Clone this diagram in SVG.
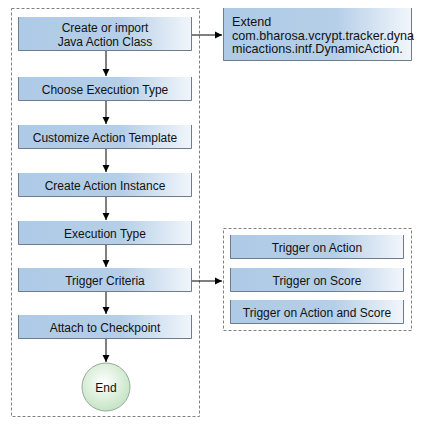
<svg xmlns="http://www.w3.org/2000/svg" width="422" height="426" viewBox="0 0 422 426">
<defs>
<linearGradient id="bg" x1="0" y1="0" x2="1" y2="0">
<stop offset="0" stop-color="#aecae6"/>
<stop offset="0.6" stop-color="#b6cfe8"/>
<stop offset="1" stop-color="#f2f6fb"/>
</linearGradient>
<radialGradient id="eg" cx="0.45" cy="0.4" r="0.6">
<stop offset="0" stop-color="#ffffff"/>
<stop offset="1" stop-color="#c4e4c4"/>
</radialGradient>
<marker id="ah" markerWidth="8" markerHeight="8" refX="7" refY="4" orient="auto" markerUnits="userSpaceOnUse">
<path d="M0,0.5 L7,4 L0,7.5 Z" fill="#000"/>
</marker>
</defs>
<style>
.dash{fill:none;stroke:#808080;stroke-width:1;stroke-dasharray:3,2}
.box{fill:url(#bg)}
.edge{fill:none;stroke:#6e7c8c;stroke-width:1}
.t{font-family:"Liberation Sans",Arial,sans-serif;font-size:12px;fill:#111;text-anchor:middle}
.tl{font-family:"Liberation Sans",Arial,sans-serif;font-size:12.6px;fill:#111}
.c{fill:none;stroke:#000;stroke-width:1;marker-end:url(#ah)}
</style>
<rect class="dash" x="11.5" y="8.5" width="188" height="408"/>
<rect class="dash" x="223.5" y="228.5" width="188" height="102"/>
<g id="n1">
<rect class="box" x="18" y="17" width="174" height="34"/>
<path class="edge" d="M18.5,17 V50.5 H191.5 V17"/>
<text class="t" x="105" y="32">Create or import</text>
<text class="t" x="105" y="46">Java Action Class</text>
</g>
<g id="n2">
<rect class="box" x="18" y="77" width="174" height="24"/>
<path class="edge" d="M18.5,77 V100.5 H191.5 V77"/>
<text class="t" x="105" y="93.5">Choose Execution Type</text>
</g>
<g id="n3">
<rect class="box" x="18" y="125" width="174" height="24"/>
<path class="edge" d="M18.5,125 V148.5 H191.5 V125"/>
<text class="t" x="105" y="141.5">Customize Action Template</text>
</g>
<g id="n4">
<rect class="box" x="18" y="173" width="174" height="24"/>
<path class="edge" d="M18.5,173 V196.5 H191.5 V173"/>
<text class="t" x="105" y="189.5">Create Action Instance</text>
</g>
<g id="n5">
<rect class="box" x="18" y="221" width="174" height="24"/>
<path class="edge" d="M18.5,221 V244.5 H191.5 V221"/>
<text class="t" x="105" y="237.5">Execution Type</text>
</g>
<g id="n6">
<rect class="box" x="18" y="268" width="174" height="24"/>
<path class="edge" d="M18.5,268 V291.5 H191.5 V268"/>
<text class="t" x="105" y="284.5">Trigger Criteria</text>
</g>
<g id="n7">
<rect class="box" x="18" y="315" width="174" height="24"/>
<path class="edge" d="M18.5,315 V338.5 H191.5 V315"/>
<text class="t" x="105" y="331.5">Attach to Checkpoint</text>
</g>
<g id="end">
<circle cx="106" cy="387" r="24" fill="url(#eg)" stroke="#9aaa9a" stroke-width="1"/>
<text class="t" x="106" y="391.5">End</text>
</g>
<g id="ext">
<rect class="box" x="223" y="8" width="189" height="53"/>
<path class="edge" d="M223.5,8 V60.5 H411.5 V8"/>
<text class="tl" x="232" y="26">Extend</text>
<text class="tl" x="232" y="39.5">com.bharosa.vcrypt.tracker.dyna</text>
<text class="tl" x="232" y="53">micactions.intf.DynamicAction.</text>
</g>
<g id="t1">
<rect class="box" x="230" y="235" width="174" height="24"/>
<path class="edge" d="M230.5,235 V258.5 H403.5 V235"/>
<text class="t" x="317" y="251.5">Trigger on Action</text>
</g>
<g id="t2">
<rect class="box" x="230" y="268" width="174" height="24"/>
<path class="edge" d="M230.5,268 V291.5 H403.5 V268"/>
<text class="t" x="317" y="284.5">Trigger on Score</text>
</g>
<g id="t3">
<rect class="box" x="230" y="300" width="174" height="24"/>
<path class="edge" d="M230.5,300 V323.5 H403.5 V300"/>
<text class="t" x="317" y="316.5">Trigger on Action and Score</text>
</g>
<g id="connectors">
<path class="c" d="M106,51 V76"/>
<path class="c" d="M106,101 V124"/>
<path class="c" d="M106,149 V172"/>
<path class="c" d="M106,197 V220"/>
<path class="c" d="M106,245 V267"/>
<path class="c" d="M106,292 V314"/>
<path class="c" d="M106,339 V362"/>
<path class="c" d="M192,35 H222"/>
<path class="c" d="M192,281 H222"/>
</g>
</svg>
